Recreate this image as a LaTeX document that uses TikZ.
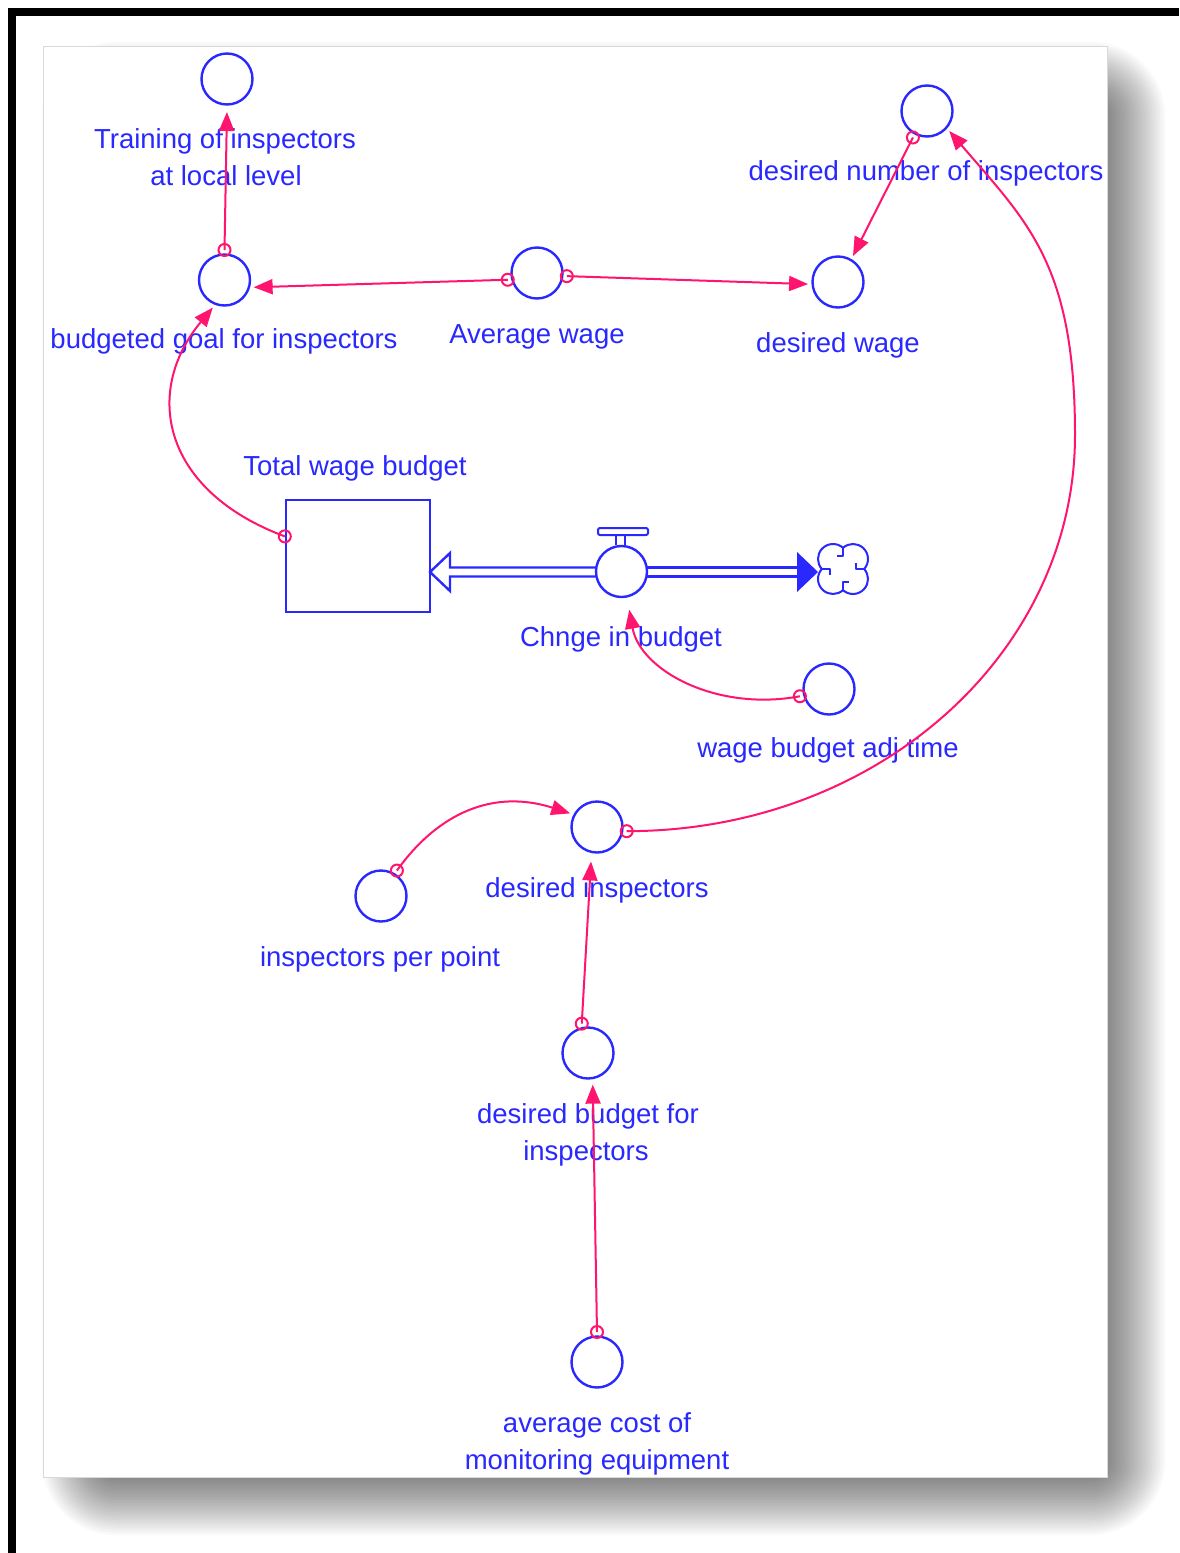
\documentclass[tikz,border=0pt]{standalone}
\usepackage{fontspec}
\setmainfont{Liberation Sans}
\usetikzlibrary{arrows.meta}
\definecolor{varblue}{RGB}{40,40,255}
\definecolor{linkpink}{RGB}{255,20,110}
\begin{document}
\begin{tikzpicture}[x=1pt,y=-1pt,
  aux/.style={circle, draw=varblue, line width=2.4pt, minimum size=51pt, inner sep=0pt, outer sep=4.5pt},
  stockbox/.style={draw=varblue, line width=2.4pt, minimum width=144pt, minimum height=112pt, inner sep=0pt},
  lbl/.style={text=varblue, font=\fontsize{27.5}{37}\selectfont, anchor=base, inner sep=0pt},
  link/.style={draw=linkpink, line width=2pt, -{Triangle[length=19pt,width=15pt]}},
  tailmk/.style={draw=linkpink, line width=2pt},
  pipe/.style={draw=varblue, line width=2.4pt}
]
\useasboundingbox (0,0) rectangle (1179,1553);
\fill[white] (0,0) rectangle (1179,1553);

% soft drop shadow behind the sheet, built from thin translucent layers
\foreach \k in {1,...,28} {
  \pgfmathsetmacro\rc{2.5*\k+4}
  \fill[black, fill opacity=0.024, rounded corners=\rc pt]
    (112-2.5*\k, 112-2.5*\k) rectangle (1095+2.5*\k, 1465+2.5*\k);
}
% sheet
\fill[white] (43,46) rectangle (1107,1477);
\draw[black!15, line width=1pt] (43,46) rectangle (1107,1477);
% frame bars
\fill[black] (8,8) rectangle (1179,16);
\fill[black] (8,8) rectangle (16,1553);

% variables
\node[aux] (train) at (227,79) {};
\node[aux] (bgoal) at (224.5,280) {};
\node[aux] (avgw) at (537,273) {};
\node[aux] (dwage) at (838,282) {};
\node[aux] (dnum) at (927,111) {};
\node[aux] (adjt) at (829,689) {};
\node[aux] (dins) at (597,827) {};
\node[aux] (ipp) at (381,896) {};
\node[aux] (dbud) at (588,1053) {};
\node[aux] (avgc) at (597,1362) {};
\node[aux] (valve) at (621.5,571.5) {};
\node[stockbox] (stock) at (358,556) {};

% labels
\node[lbl] (l-train1) at (225,148) {Training of inspectors};
\node[lbl] (l-train2) at (226,185) {at local level};
\node[lbl] (l-bgoal) at (224,348) {budgeted goal for inspectors};
\node[lbl] (l-avgw) at (537,343) {Average wage};
\node[lbl] (l-dwage) at (838,352) {desired wage};
\node[lbl] (l-dnum) at (926,180) {desired number of inspectors};
\node[lbl] (l-stock) at (355,475) {Total wage budget};
\node[lbl] (l-valve) at (621,646) {Chnge in budget};
\node[lbl] (l-adjt) at (828,757) {wage budget adj time};
\node[lbl] (l-dins) at (597,897) {desired inspectors};
\node[lbl] (l-ipp) at (380,966) {inspectors per point};
\node[lbl] (l-dbud1) at (588,1123) {desired budget for};
\node[lbl] (l-dbud2) at (586,1160) {inspectors};
\node[lbl] (l-avgc1) at (597,1432) {average cost of};
\node[lbl] (l-avgc2) at (597,1469) {monitoring equipment};

% flow pipe into the stock (hollow head)
\draw[pipe] (596,567.5) -- (450,567.5) -- (450,553) -- (430,572) -- (450,591) -- (450,576.5) -- (596,576.5);
% flow pipe to the sink (filled head)
\draw[pipe] (647,567.5) -- (797,567.5);
\draw[pipe] (647,576.5) -- (797,576.5);
\fill[varblue] (797,552) -- (818,572) -- (797,592) -- cycle;
% valve handle
\draw[varblue, line width=2pt, rounded corners=2pt] (598,528) rectangle (648,535);
\draw[varblue, line width=2pt] (616,535) -- (616,545) (625,535) -- (625,545);
% sink cloud
\coordinate (cloud) at (843,569);
\draw[varblue, line width=2pt, line join=round]
  (cloud) ++(0,-21.2)
  arc[start angle=48.2, end angle=221.8, radius=15pt]
  arc[start angle=138.2, end angle=311.8, radius=15pt]
  arc[start angle=228.2, end angle=401.8, radius=15pt]
  arc[start angle=318.2, end angle=491.8, radius=15pt] -- cycle;
\draw[varblue, line width=2pt, line join=round]
  (843,547.8) -- (843,556) -- (837,556)
  (821.8,569) -- (830,569) -- (830,575)
  (843,590.2) -- (843,582) -- (849,582)
  (864.2,569) -- (856,569) -- (856,563);

% causal links
\draw[link, shorten >=3pt] (bgoal.90) -- (train.-90);
\draw[link] (avgw.193) -- (bgoal.-14);
\draw[link] (avgw.-6) -- (dwage.184);
\draw[link] (dnum.242) -- (dwage.60);
\coordinate (rmid) at (1075,435);
\draw[link] (dins.-8) .. controls +(250,0) and +(0,219) .. (rmid)
  .. controls +(0,-170) and +(79,92) .. (dnum.-42);
\draw[link] (stock.165) .. controls +(-122,-45.5) and +(-70.4,84.7) .. (bgoal.247);
\draw[link, shorten >=9pt] (adjt.194) .. controls +(-83.9,15.7) and +(12.3,69.2) .. (valve.-78);
\draw[link] (ipp.58) .. controls +(41.7,-58.3) and +(-76.3,-24.4) .. (dins.153);
\draw[link, shorten >=5pt] (dbud.102) -- (dins.-101);
\draw[link, shorten >=2pt] (avgc.90) -- (dbud.-81.6);

% link tails
\foreach \a in {bgoal.90, avgw.193, avgw.-6, dnum.242, dins.-8, stock.165, adjt.194, ipp.58, dbud.102, avgc.90}
  \draw[tailmk] (\a) circle[radius=6pt];
\end{tikzpicture}
\end{document}
